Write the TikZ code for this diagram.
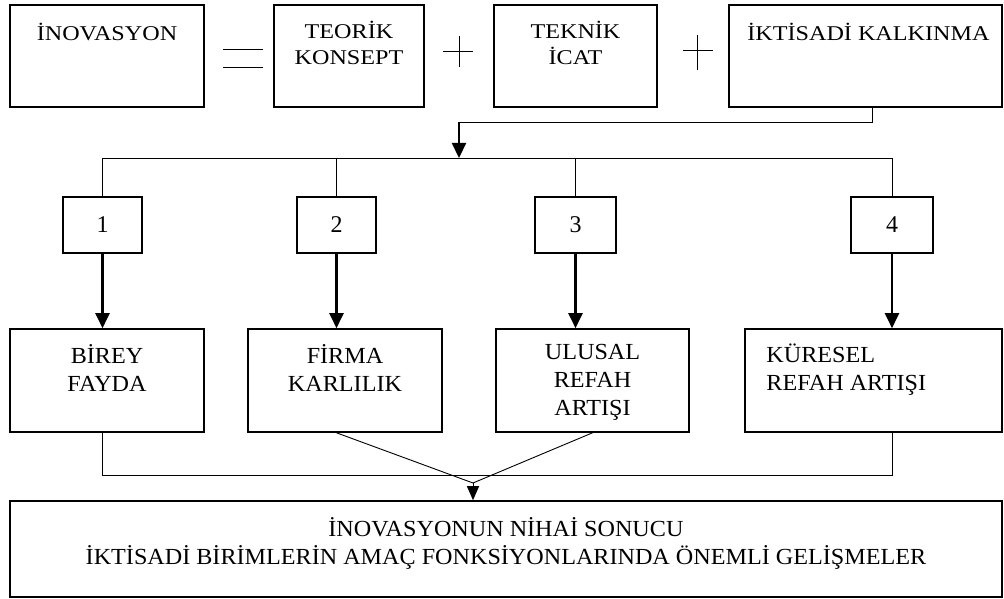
\documentclass[tikz,border=0pt]{standalone}
\usepackage{fontspec}
\setmainfont{Liberation Serif}
\newfontfamily\widefont{Liberation Serif}[FakeStretch=1.15]
\newfontfamily\lowfont{Liberation Serif}[FakeStretch=1.05]
\usetikzlibrary{arrows.meta,calc}
\begin{document}
\begin{tikzpicture}[x=1pt,y=-1pt,
  box/.style={draw, line width=1.6pt, inner sep=0pt},
  wire/.style={line width=0.9pt},
  sym/.style={line width=0.8pt},
  thickarrow/.style={line width=2.2pt, -{Triangle[length=15pt,width=14pt]}},
  mergearrow/.style={line width=1pt, -{Triangle[length=14pt,width=12pt]}},
  toplbl/.style={font=\widefont\fontsize{21}{26}\selectfont, align=center, inner sep=0pt,
    execute at begin node={\rule{0pt}{0.92em}}},
  lowlbl/.style={font=\lowfont\fontsize{23}{28}\selectfont, align=center, inner sep=0pt,
    execute at begin node={\rule{0pt}{0.92em}}},
  numlbl/.style={font=\fontsize{24}{28}\selectfont}
]
\useasboundingbox (0,0) rectangle (1004,599);

% top row: the definition
\node[box, minimum width=194pt, minimum height=102pt,
  label={[toplbl, anchor=north, yshift=-17pt]north:İNOVASYON}] (inov) at (107,56) {};
\node[box, minimum width=150pt, minimum height=102pt,
  label={[toplbl, anchor=north, yshift=-17pt]north:TEORİK\\KONSEPT}] (teorik) at (349,56) {};
\node[box, minimum width=163pt, minimum height=102pt,
  label={[toplbl, anchor=north, yshift=-17pt]north:TEKNİK\\İCAT}] (teknik) at (575.5,56) {};
\node[box, minimum width=273pt, minimum height=102pt,
  label={[toplbl, anchor=north west, xshift=19pt, yshift=-17pt]north west:İKTİSADİ KALKINMA}] (ikt) at (865.5,56) {};

% equals and plus signs
\draw[sym] (223,49.5) -- (263,49.5);
\draw[sym] (223,67) -- (263,67);
\draw[sym] (443,51) -- (473,51);
\draw[sym] (459,36) -- (459,67);
\draw[sym] (683,50) -- (713,50);
\draw[sym] (697,35) -- (697,70);

% numbered branches
\node[box, numlbl, minimum width=79pt, minimum height=56pt] (n1) at (102.5,225) {1};
\node[box, numlbl, minimum width=79pt, minimum height=56pt] (n2) at (336.5,225) {2};
\node[box, numlbl, minimum width=81pt, minimum height=56pt] (n3) at (575.5,225) {3};
\node[box, numlbl, minimum width=82pt, minimum height=56pt] (n4) at (892,225) {4};

% outcomes
\node[box, minimum width=194pt, minimum height=103pt,
  label={[lowlbl, anchor=north, yshift=-15.8pt]north:BİREY\\FAYDA}] (birey) at (107,380.5) {};
\node[box, minimum width=194pt, minimum height=103pt,
  label={[lowlbl, anchor=north, yshift=-15.8pt]north:FİRMA\\KARLILIK}] (firma) at (345,380.5) {};
\node[box, minimum width=193pt, minimum height=103pt,
  label={[lowlbl, anchor=north, yshift=-15.8pt]north:ULUSAL\\REFAH\\ARTIŞI}] (ulusal) at (592.5,380.5) {};
\node[box, minimum width=257pt, minimum height=103pt,
  label={[lowlbl, align=left, anchor=north west, xshift=22pt, yshift=-15.8pt]north west:KÜRESEL\\REFAH ARTIŞI}] (kuresel) at (873.5,380.5) {};

% final result
\node[box, minimum width=992pt, minimum height=96pt,
  label={[lowlbl, anchor=north, yshift=-17pt]north:İNOVASYONUN NİHAİ SONUCU\\İKTİSADİ BİRİMLERİN AMAÇ FONKSİYONLARINDA ÖNEMLİ GELİŞMELER}] (sonuc) at (506,549) {};

% from the definition down to the distribution bus
\coordinate (turn) at (459,122);
\coordinate (hub) at (459,158);
\draw[wire] ([xshift=6.5pt]ikt.south) |- (turn);
\draw[thickarrow] (turn) -- (hub);
\draw[wire] (n1.north |- hub) -- (n4.north |- hub);
\foreach \n in {n1,n2,n3,n4} {
  \draw[wire] (\n.north |- hub) -- (\n.north);
}

% branches into the outcomes
\draw[thickarrow] (n1.south) -- (n1.south |- birey.north);
\draw[thickarrow] (n2.south) -- (n2.south |- firma.north);
\draw[thickarrow] (n3.south) -- (n3.south |- ulusal.north);
\draw[thickarrow] (n4.south) -- (n4.south |- kuresel.north);

% outcomes converge on the final result
\coordinate (mergey) at (0,475);
\coordinate (m) at (473,483);
\draw[wire] (n1.south |- birey.south) |- (mergey -| n4.south) -- (n4.south |- kuresel.south);
\draw[wire] (n2.south |- firma.south) -- (m) -- (ulusal.south);
\draw[mergearrow] (m) -- (m |- sonuc.north);
\end{tikzpicture}
\end{document}
